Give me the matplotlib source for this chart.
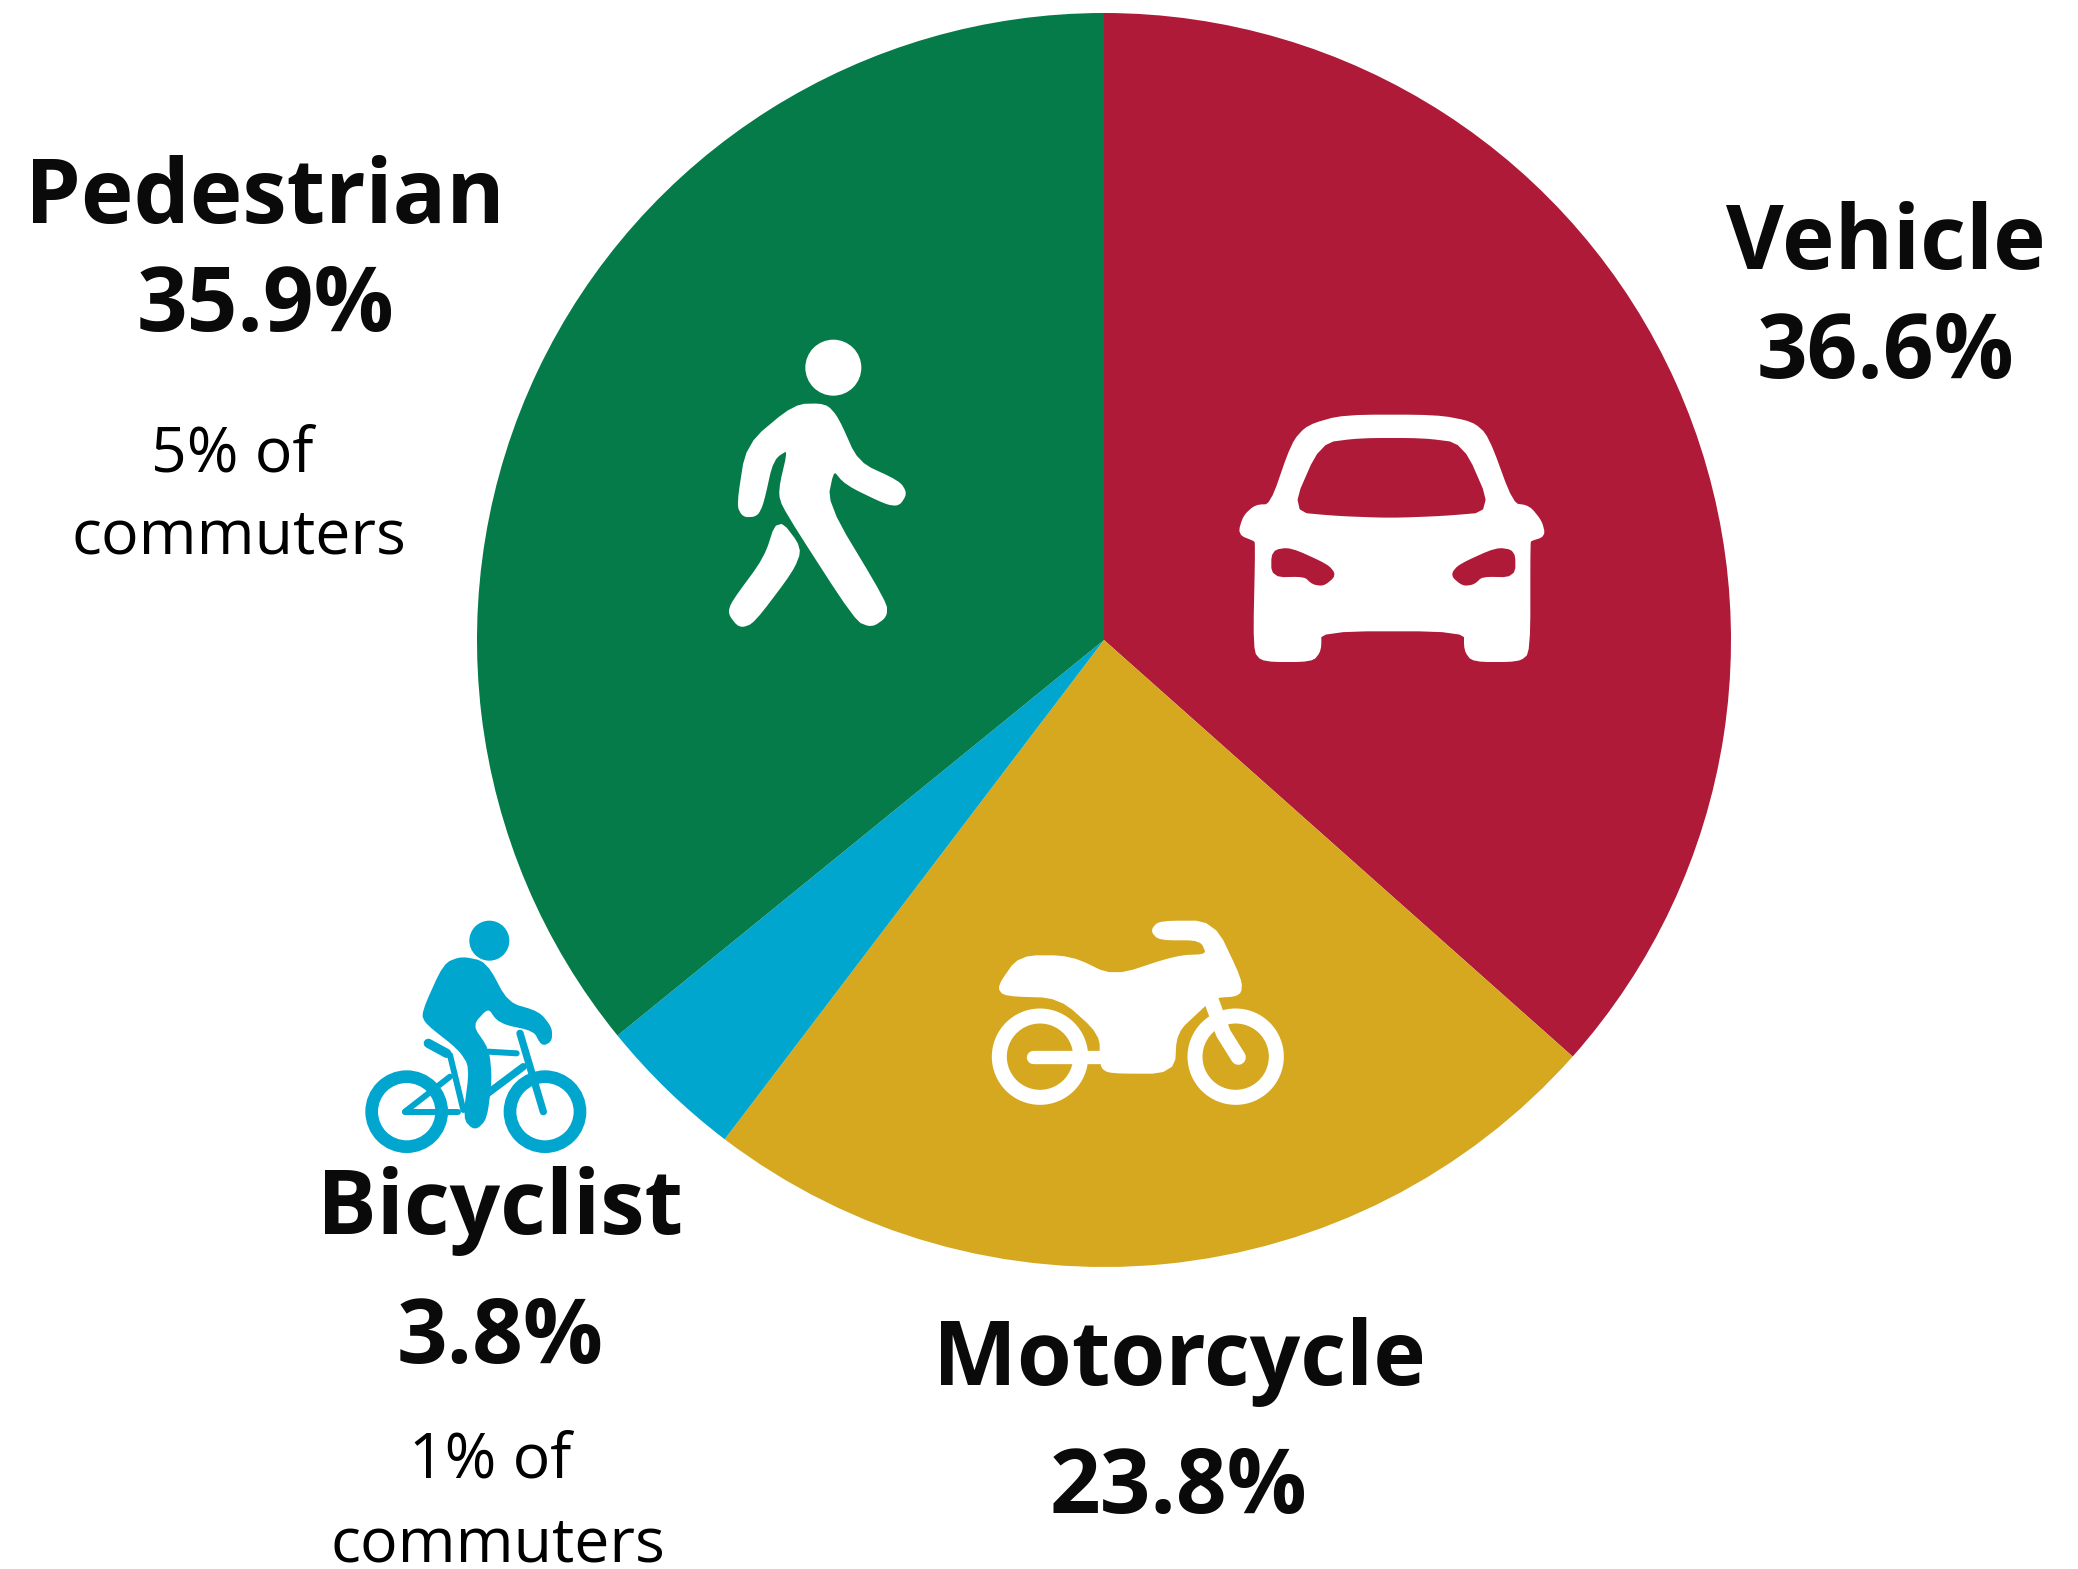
import matplotlib
matplotlib.use("Agg")
import matplotlib.pyplot as plt
from matplotlib.patches import Polygon, Circle

categories = ["Vehicle", "Motorcycle", "Bicyclist", "Pedestrian"]
shares = [36.6, 23.8, 3.8, 35.9]
share_labels = ["36.6%", "23.8%", "3.8%", "35.9%"]
colors = ["#AE1A38", "#D5A81F", "#00A6CE", "#047B48"]
commuter_notes = {"Pedestrian": ["5% of", "commuters"], "Bicyclist": ["1% of", "commuters"]}

W, H = 2078, 1569
DPI = 100
PX = 72 / DPI

# where the labels sit, in pixels: x, name baseline, share baseline
label_pos = {
    "Vehicle": (1886, 269, 378),
    "Motorcycle": (1179, 1385, 1513),
    "Bicyclist": (500, 1234, 1363),
    "Pedestrian": (265, 223, 331),
}
note_pos = {"Pedestrian": [(232, 472), (239, 554)], "Bicyclist": [(490, 1477), (498, 1561)]}

BOLD_SIZE = 64
NOTE_SIZE = 45


def to_px(points, ox, oy):
    return [(x / 3 + ox, y / 3 + oy) for x, y in points]


def smooth(points, n=2):
    # corner cutting, the icons have soft corners
    for _ in range(n):
        new = []
        for i, (x0, y0) in enumerate(points):
            x1, y1 = points[(i + 1) % len(points)]
            new.append((0.8 * x0 + 0.2 * x1, 0.8 * y0 + 0.2 * y1))
            new.append((0.2 * x0 + 0.8 * x1, 0.2 * y0 + 0.8 * y1))
        points = new
    return points


def poly(ax, points, ox, oy, color):
    ax.add_patch(Polygon(to_px(smooth(points), ox, oy), closed=True, fc=color, ec=color,
                         lw=4 * PX, joinstyle="round"))


def stroke(ax, points, ox, oy, color, width):
    pts = to_px(points, ox, oy)
    ax.plot([p[0] for p in pts], [p[1] for p in pts], color=color, lw=width / 3 * PX,
            solid_capstyle="round", solid_joinstyle="round")


def ring(ax, x, y, r, ox, oy, color, width):
    cx, cy = to_px([(x, y)], ox, oy)[0]
    ax.add_patch(Circle((cx, cy), r / 3, fc="none", ec=color, lw=width / 3 * PX))


def dot(ax, x, y, r, ox, oy, color):
    cx, cy = to_px([(x, y)], ox, oy)[0]
    ax.add_patch(Circle((cx, cy), r / 3, fc=color, ec="none"))


def draw_pedestrian(ax, ox=680, oy=320, c="white"):
    dot(ax, 460, 143, 84, ox, oy, c)
    poly(ax, [(345, 258), (435, 256), (470, 295), (530, 430), (655, 488), (675, 520), (655, 552),
              (620, 548), (500, 490), (458, 440), (435, 550), (615, 850), (615, 888), (575, 916),
              (530, 898), (315, 565), (300, 515), (332, 378), (275, 415), (245, 550), (228, 584),
              (192, 586), (176, 555), (204, 376)], ox, oy, c)
    poly(ax, [(295, 600), (360, 685), (335, 750), (218, 905), (180, 918), (150, 880), (160, 848),
              (258, 715)], ox, oy, c)


def draw_car(ax, ox=1210, oy=400, c="white", bg="#AE1A38"):
    poly(ax, [(400, 50), (680, 50), (785, 70), (830, 110), (905, 315), (955, 322), (990, 365),
              (1000, 405), (960, 418), (955, 425), (955, 755), (925, 780), (790, 780), (768, 750),
              (768, 688), (328, 688), (328, 750), (305, 780), (160, 780), (135, 750), (142, 425),
              (135, 418), (90, 400), (105, 350), (138, 320), (185, 318), (250, 130), (295, 80)],
         ox, oy, c)
    poly(ax, [(335, 135), (450, 120), (640, 120), (755, 135), (840, 330), (700, 342), (540, 348),
              (380, 342), (250, 330)], ox, oy, bg)
    lamp = [(190, 456), (240, 448), (350, 498), (372, 525), (340, 552), (310, 548), (285, 524), (190, 526)]
    poly(ax, lamp, ox, oy, bg)
    poly(ax, [(1100 - x, y) for x, y in lamp], ox, oy, bg)


def draw_motorcycle(ax, ox=970, oy=900, c="white"):
    ring(ax, 210, 470, 122, ox, oy, c, 45)
    ring(ax, 797, 470, 122, ox, oy, c, 45)
    stroke(ax, [(190, 470), (395, 470)], ox, oy, c, 40)
    stroke(ax, [(720, 290), (760, 400), (805, 472)], ox, oy, c, 45)
    poly(ax, [(150, 172), (300, 172), (430, 235), (620, 172), (718, 168), (695, 115), (570, 115),
              (548, 92), (570, 68), (728, 68), (810, 240), (808, 283), (730, 288), (695, 320),
              (615, 395), (608, 515), (420, 515), (395, 498), (395, 400), (270, 288), (105, 283),
              (88, 260)], ox, oy, c)


def draw_bike(ax, ox=350, oy=900, c="#00A6CE"):
    dot(ax, 418, 122, 60, ox, oy, c)
    poly(ax, [(335, 175), (405, 190), (470, 312), (565, 340), (600, 385), (600, 420), (578, 432),
              (555, 388), (450, 365), (415, 315), (360, 375), (412, 450), (420, 540), (405, 655),
              (375, 685), (345, 655), (365, 500), (330, 445), (232, 368), (220, 340), (285, 195)],
         ox, oy, c)
    ring(ax, 170, 635, 105, ox, oy, c, 38)
    ring(ax, 585, 635, 105, ox, oy, c, 38)
    stroke(ax, [(235, 430), (290, 460)], ox, oy, c, 28)
    stroke(ax, [(300, 465), (340, 630)], ox, oy, c, 18)
    stroke(ax, [(165, 635), (300, 530)], ox, oy, c, 18)
    stroke(ax, [(165, 635), (325, 635)], ox, oy, c, 18)
    stroke(ax, [(415, 455), (500, 460)], ox, oy, c, 18)
    stroke(ax, [(510, 400), (580, 635)], ox, oy, c, 22)
    stroke(ax, [(520, 500), (400, 590)], ox, oy, c, 22)


def main():
    fig = plt.figure(figsize=(W / DPI, H / DPI), dpi=DPI, facecolor="white")

    cx, cy, r = 1104, 640, 627
    ax = fig.add_axes([(cx - r) / W, 1 - (cy + r) / H, 2 * r / W, 2 * r / H])
    ax.pie(shares, colors=colors, startangle=90, counterclock=False, radius=1)
    ax.set_xlim(-1, 1)
    ax.set_ylim(-1, 1)

    over = fig.add_axes([0, 0, 1, 1])
    over.set_xlim(0, W)
    over.set_ylim(H, 0)
    over.axis("off")
    over.patch.set_alpha(0)

    draw_pedestrian(over)
    draw_car(over)
    draw_motorcycle(over)
    draw_bike(over)

    for name, share in zip(categories, share_labels):
        x, y1, y2 = label_pos[name]
        for txt, y in ((name, y1), (share, y2)):
            over.text(x, y, txt, family="Open Sans", weight="bold", fontsize=BOLD_SIZE,
                      ha="center", va="baseline", color="#0a0a0a")

    for name, lines in commuter_notes.items():
        for txt, (x, y) in zip(lines, note_pos[name]):
            over.text(x, y, txt, family="Open Sans", fontsize=NOTE_SIZE, ha="center",
                      va="baseline", color="black")

    fig.savefig("out.png", dpi=DPI)


if __name__ == '__main__':
    main()
